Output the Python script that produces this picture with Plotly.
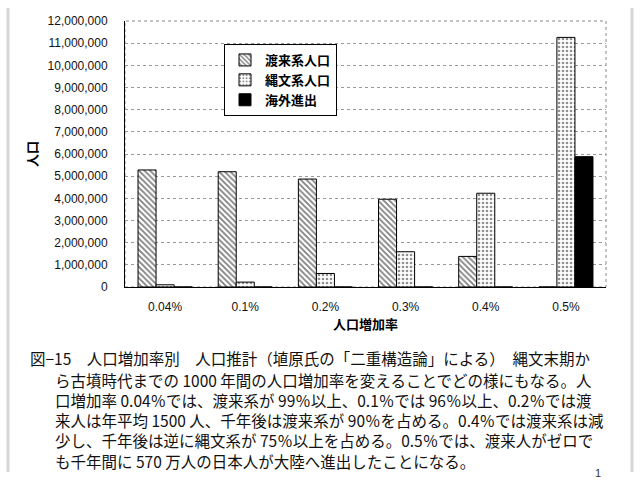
import plotly.graph_objects as go

categories = ["0.04%", "0.1%", "0.2%", "0.3%", "0.4%", "0.5%"]
torai = [5280000, 5200000, 4870000, 3960000, 1380000, 0]
jomon = [100000, 220000, 610000, 1590000, 4230000, 11260000]
kaigai = [0, 0, 0, 0, 0, 5880000]
series_names = ["渡来系人口", "縄文系人口", "海外進出"]
y_ticks = list(range(0, 12000001, 1000000))

caption_first = "図−15　人口増加率別　人口推計（埴原氏の「二重構造論」による）　縄文末期か"
caption_rest = [
    "ら古墳時代までの 1000 年間の人口増加率を変えることでどの様にもなる。人",
    "口増加率 0.04％では、渡来系が 99％以上、0.1％では 96％以上、0.2％では渡",
    "来人は年平均 1500 人、千年後は渡来系が 90％を占める。0.4％では渡来系は減",
    "少し、千年後は逆に縄文系が 75％以上を占める。0.5％では、渡来人がゼロで",
    "も千年間に 570 万人の日本人が大陸へ進出したことになる。",
]

W, H = 640, 480
L, R, T, B = 125, 34, 21, 193
PW, PH = W - L - R, H - T - B


def px(x):
    return (x - L) / PW


def py(y):
    return (H - B - y) / PH


fig = go.Figure()
fig.add_trace(go.Bar(
    x=categories, y=torai, name=series_names[0],
    marker=dict(color="white", line=dict(color="black", width=1),
                pattern=dict(shape="\\", fgcolor="black", bgcolor="#ffffff",
                             size=4, solidity=0.45)),
))
fig.add_trace(go.Bar(
    x=categories, y=jomon, name=series_names[1],
    marker=dict(color="white", line=dict(color="black", width=1),
                pattern=dict(shape=".", fgcolor="#222222", bgcolor="#ffffff",
                             size=4, solidity=0.35)),
))
fig.add_trace(go.Bar(
    x=categories, y=kaigai, name=series_names[2],
    marker=dict(color="black", line=dict(color="black", width=1)),
))

cjk = "Noto Sans CJK JP"
sans = "Liberation Sans, Arial, sans-serif"

annotations = [
    dict(text=caption_first, xref="paper", yref="paper",
         x=px(28), y=py(358), xanchor="left", yanchor="middle", showarrow=False,
         font=dict(family=cjk, size=15.5, color="#111111")),
    dict(text="<br>".join(caption_rest), xref="paper", yref="paper",
         x=px(53), y=py(420.5), xanchor="left", yanchor="middle", align="left",
         showarrow=False,
         font=dict(family=cjk, size=15.5, color="#111111")),
    dict(text="1", xref="paper", yref="paper", x=px(598), y=py(473),
         xanchor="center", yanchor="middle", showarrow=False,
         font=dict(family=sans, size=11, color="#333333")),
]

shapes = [
    dict(type="rect", xref="paper", yref="paper", x0=0, y0=0, x1=1, y1=1,
         line=dict(color="#888888", width=1, dash="dot"), layer="below"),
    dict(type="line", xref="paper", yref="paper", x0=px(8), x1=px(8),
         y0=py(8), y1=py(472), line=dict(color="#d6d6d6", width=3)),
    dict(type="line", xref="paper", yref="paper", x0=px(632), x1=px(632),
         y0=py(8), y1=py(472), line=dict(color="#d6d6d6", width=3)),
]

fig.update_layout(
    width=W, height=H,
    margin=dict(l=L, r=R, t=T, b=B),
    paper_bgcolor="white", plot_bgcolor="white",
    barmode="group", bargap=0.325, bargroupgap=0,
    showlegend=True,
    legend=dict(
        x=px(224), y=py(44), xanchor="left", yanchor="top",
        bgcolor="white", bordercolor="black", borderwidth=1,
        font=dict(family=cjk, size=13, color="black", weight="bold"),
        tracegroupgap=2, itemwidth=30,
    ),
    xaxis=dict(
        showline=True, linecolor="black", linewidth=1,
        ticks="", tickfont=dict(family=sans, size=12, color="#111111"),
        ticklabelstandoff=9,
        title=dict(text="<b>人口増加率</b>", font=dict(family=cjk, size=13, color="black"),
                   standoff=2),
    ),
    yaxis=dict(
        range=[0, 12000000], tickvals=y_ticks, tickformat=",d",
        showline=True, linecolor="black", linewidth=1,
        showgrid=True, gridcolor="#9a9a9a", griddash="dot", gridwidth=1,
        zeroline=False, ticks="",
        tickfont=dict(family=sans, size=12, color="#111111"),
        ticklabelstandoff=14,
        title=dict(text="<b>人口</b>", font=dict(family=cjk, size=13, color="black"),
                   standoff=6),
    ),
    annotations=annotations,
    shapes=shapes,
)

fig.write_html("out.html")
